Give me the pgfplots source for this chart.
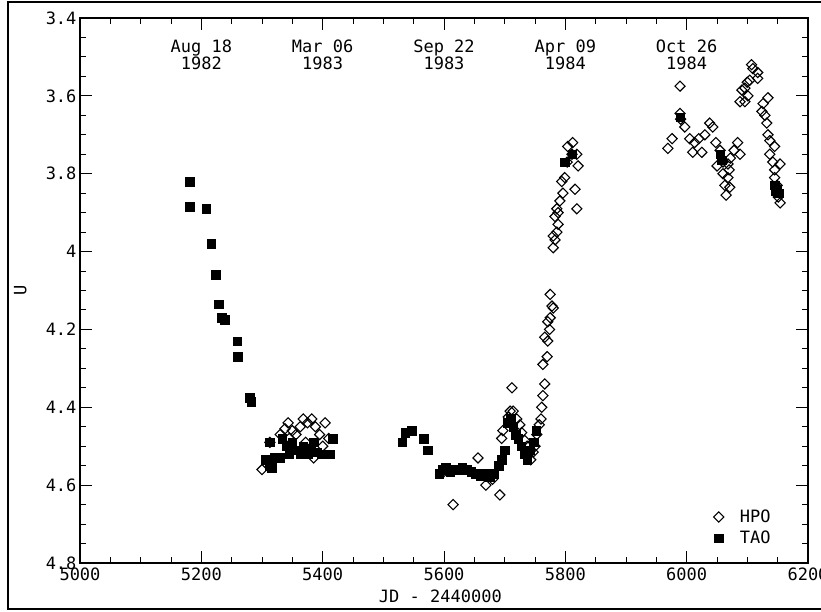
\documentclass[border=0pt]{standalone}
\usepackage{pgfplots}
\pgfplotsset{compat=1.18}
\usepackage{fontspec}
\setmainfont{DejaVu Sans Mono}
\pgfplotstableread{
jd v
5300 4.56
5313 4.49
5330 4.47
5338 4.455
5343 4.44
5350 4.46
5356 4.47
5363 4.45
5368 4.43
5375 4.44
5382 4.43
5388 4.45
5395 4.47
5404 4.44
5410 4.48
5385 4.53
5345 4.48
5372 4.49
5400 4.50
5600 4.565
5615 4.65
5656 4.53
5669 4.60
5692 4.625
5680 4.585
5695 4.48
5697 4.46
5706 4.425
5709 4.41
5712 4.35
5714 4.41
5720 4.43
5725 4.445
5728 4.465
5733 4.485
5737 4.50
5740 4.52
5743 4.535
5747 4.515
5750 4.50
5753 4.47
5757 4.445
5760 4.43
5761 4.40
5763 4.37
5766 4.34
5763 4.29
5770 4.27
5766 4.22
5771 4.23
5774 4.20
5771 4.18
5775 4.17
5780 4.145
5778 4.14
5775 4.11
5780 3.99
5783 3.97
5780 3.96
5786 3.95
5788 3.93
5783 3.91
5788 3.90
5786 3.89
5791 3.87
5796 3.85
5794 3.82
5799 3.81
5803 3.77
5811 3.75
5804 3.73
5812 3.72
5819 3.75
5821 3.78
5816 3.84
5819 3.89
5969 3.735
5976 3.71
5989 3.575
5989 3.645
5990 3.66
5997 3.68
6005 3.71
6013 3.72
6010 3.745
6020 3.71
6025 3.745
6030 3.70
6038 3.67
6043 3.68
6048 3.72
6055 3.74
6050 3.78
6060 3.77
6068 3.775
6060 3.80
6063 3.83
6068 3.81
6070 3.79
6072 3.76
6078 3.74
6084 3.72
6088 3.75
6071 3.835
6065 3.855
6088 3.615
6091 3.585
6096 3.58
6100 3.565
6104 3.56
6107 3.52
6109 3.53
6117 3.54
6117 3.555
6096 3.615
6101 3.60
6126 3.62
6124 3.64
6129 3.65
6132 3.67
6134 3.605
6134 3.70
6137 3.715
6145 3.73
6137 3.75
6142 3.77
6154 3.775
6145 3.79
6145 3.81
6149 3.83
6154 3.875
6151 3.86
}\hpo
\pgfplotstableread{
jd v
5181 3.82
5181 3.885
5208 3.89
5216 3.98
5224 4.06
5229 4.135
5234 4.17
5239 4.175
5259 4.23
5260 4.27
5280 4.375
5282 4.385
5305 4.535
5313 4.55
5316 4.555
5321 4.53
5330 4.53
5313 4.49
5333 4.48
5340 4.50
5345 4.52
5350 4.49
5356 4.51
5363 4.52
5368 4.50
5375 4.52
5380 4.505
5385 4.49
5390 4.515
5398 4.52
5405 4.52
5412 4.52
5417 4.48
5531 4.49
5536 4.465
5547 4.46
5567 4.48
5573 4.51
5592 4.57
5598 4.56
5603 4.555
5610 4.565
5617 4.56
5624 4.56
5630 4.555
5637 4.56
5645 4.565
5652 4.57
5660 4.575
5667 4.57
5675 4.58
5682 4.57
5690 4.55
5695 4.535
5700 4.51
5705 4.44
5710 4.43
5714 4.45
5718 4.47
5722 4.48
5727 4.50
5732 4.52
5737 4.535
5742 4.51
5748 4.49
5752 4.46
5799 3.77
5811 3.75
5989 3.655
6055 3.75
6058 3.765
6145 3.83
6147 3.845
6149 3.84
6152 3.85
}\tao
\begin{document}
\begin{tikzpicture}[x=1pt,y=1pt]
\useasboundingbox (0,0) rectangle (821,611);
\draw[line width=2pt] (8,2) rectangle (840,609);
\begin{axis}[
  at={(80pt,48pt)}, anchor=south west,
  scale only axis, width=728pt, height=545pt,
  xmin=5000, xmax=6200, ymin=3.4, ymax=4.8,
  y dir=reverse,
  xtick={5000,5200,...,6200},
  ytick={3.4,3.6,...,4.8},
  minor x tick num=3, minor y tick num=3,
  major tick length=12pt, minor tick length=6pt,
  tick style={line width=1pt, black},
  axis line style={line width=1.3pt},
  scaled x ticks=false,
  /pgf/number format/1000 sep={},
  /pgf/number format/assume math mode=true,
  tick label style={font=\fontsize{17}{20}\selectfont},
  xticklabel style={yshift=-1pt},
  label style={font=\fontsize{17}{20}\selectfont},
  xlabel={JD - 2440000},
  ylabel={U},
  xlabel style={at={(axis description cs:0.495,-0.062)}, anchor=center},
  ylabel style={at={(axis description cs:-0.082,0.5)}, anchor=center},
  legend style={draw=none, fill=none, font=\fontsize{17}{20}\selectfont,
    at={(rel axis cs:0.866,0.025)}, anchor=south west,
    row sep=3pt, column sep=14pt},
  legend cell align=left,
  clip=false,
]
\addplot[only marks, mark=square, mark size=3.6pt,
  mark options={rotate=45, draw=black, fill=white, line width=1.1pt}]
  table[x=jd,y=v]{\hpo};
\addlegendentry{HPO}
\addplot[only marks, mark=square*, mark size=4.3pt,
  mark options={draw=black, fill=black}]
  table[x=jd,y=v]{\tao};
\addlegendentry{TAO}
\begin{scope}[every node/.style={align=center, font=\fontsize{17}{17}\selectfont}]
\node at (axis cs:5200,3.494) {Aug 18\\1982};
\node at (axis cs:5400,3.494) {Mar 06\\1983};
\node at (axis cs:5600,3.494) {Sep 22\\1983};
\node at (axis cs:5800,3.494) {Apr 09\\1984};
\node at (axis cs:6000,3.494) {Oct 26\\1984};
\end{scope}
\end{axis}
\end{tikzpicture}
\end{document}
